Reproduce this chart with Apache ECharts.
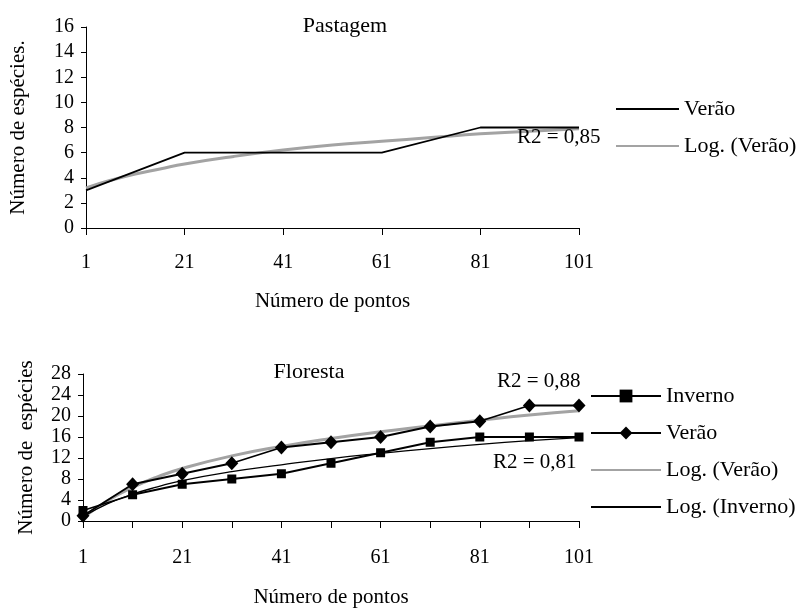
<!DOCTYPE html>
<html>
<head>
<meta charset="utf-8">
<script src="https://cdn.jsdelivr.net/npm/echarts@6/dist/echarts.min.js"></script>
<style>html,body{margin:0;padding:0;background:#fff}#c{width:802px;height:609px}</style>
</head>
<body>
<div id="c"></div>
<script>
// Pastagem
const pastX = [1, 21, 41, 61, 81, 101];
const pastVerao = [3, 6, 6, 6, 8, 8];
const pastLogX = [1, 6, 11, 16, 21, 31, 41, 51, 61, 71, 81, 91, 101];
const pastLogVerao = [3.2, 3.8, 4.3, 4.7, 5.1, 5.7, 6.2, 6.6, 6.9, 7.2, 7.5, 7.7, 7.9];
// Floresta
const florX = [1, 11, 21, 31, 41, 51, 61, 71, 81, 91, 101];
const florInverno = [2, 5, 7, 8, 9, 11, 13, 15, 16, 16, 16];
const florVerao = [1, 7, 9, 11, 14, 15, 16, 18, 19, 22, 22];
const florLogX = [1, 6, 11, 16, 21, 31, 41, 51, 61, 71, 81, 91, 101];
const florLogVerao = [0.6, 3.9, 6.4, 8.4, 10.0, 12.4, 14.2, 15.7, 17.0, 18.1, 19.2, 20.2, 21.0];
const florLogInverno = [0.8, 3.3, 5.1, 6.5, 7.7, 9.4, 10.7, 11.9, 12.9, 13.8, 14.6, 15.3, 15.9];
// ticks
const pastYTicks = {min: 0, max: 16, interval: 2};
const florYTicks = {min: 0, max: 28, interval: 4};

const F = 'Liberation Serif';
const zip = (xs, ys) => xs.map((x, i) => [x, ys[i]]);

const chart = echarts.init(document.getElementById('c'), null, {renderer: 'canvas'});

function xAxisCfg(gridIndex, interval, margin, nameGap) {
  return {
    type: 'value', gridIndex, min: 1, max: 101, interval,
    name: 'Número de pontos', nameLocation: 'middle', nameGap,
    nameTextStyle: {fontFamily: F, fontSize: 21, color: '#000'},
    axisLine: {lineStyle: {color: '#000', width: 1}},
    axisTick: {show: true, length: 7, inside: false, lineStyle: {color: '#000'}},
    axisLabel: {fontFamily: F, fontSize: 20, color: '#000', margin,
      formatter: v => ((v - 1) % 20 === 0 ? String(v) : '')},
    splitLine: {show: false}
  };
}
function yAxisCfg(gridIndex, t, name, nameGap) {
  return {
    type: 'value', gridIndex, min: t.min, max: t.max, interval: t.interval,
    name, nameLocation: 'middle', nameGap,
    nameTextStyle: {fontFamily: F, fontSize: 21, color: '#000'},
    axisLine: {show: true, lineStyle: {color: '#000', width: 1}},
    axisTick: {show: true, length: 5, lineStyle: {color: '#000'}},
    axisLabel: {fontFamily: F, fontSize: 20, color: '#000', margin: 12},
    splitLine: {show: false}
  };
}

const legendText = {fontFamily: F, fontSize: 22, color: '#000', lineHeight: 22};
const noSym = {itemStyle: {opacity: 0}};

chart.setOption({
  animation: false,
  backgroundColor: '#fff',
  title: [
    {text: 'Pastagem', left: 340, top: 21, textAlign: 'center', textVerticalAlign: 'middle',
      textStyle: {fontFamily: F, fontSize: 22, fontWeight: 'normal', color: '#000'}},
    {text: 'Floresta', left: 304, top: 367, textAlign: 'center', textVerticalAlign: 'middle',
      textStyle: {fontFamily: F, fontSize: 22, fontWeight: 'normal', color: '#000'}}
  ],
  grid: [
    {left: 86, right: 223, top: 27, height: 201},
    {left: 83, right: 223, top: 374, height: 151}
  ],
  xAxis: [xAxisCfg(0, 20, 25, 63), xAxisCfg(1, 10, 27, 66)],
  yAxis: [
    yAxisCfg(0, pastYTicks, 'Número de espécies.', 57),
    yAxisCfg(1, florYTicks, 'Número de  espécies', 46)
  ],
  legend: [
    {orient: 'vertical', left: 615, top: 98, padding: 0, itemWidth: 63, itemHeight: 14, itemGap: 15,
      textStyle: legendText, selectedMode: false,
      data: [Object.assign({name: 'Verão'}, noSym), Object.assign({name: 'Log. (Verão)'}, noSym)]},
    {orient: 'vertical', left: 590, top: 385, padding: 0, itemWidth: 70, itemHeight: 16, itemGap: 15,
      textStyle: legendText, selectedMode: false,
      data: [{name: 'Inverno'}, {name: 'Verão '},
        Object.assign({name: 'Log. (Verão) '}, noSym), Object.assign({name: 'Log. (Inverno)'}, noSym)]}
  ],
  series: [
    {name: 'Log. (Verão)', type: 'line', xAxisIndex: 0, yAxisIndex: 0, smooth: true, symbol: 'none',
      lineStyle: {color: '#a3a3a3', width: 3}, itemStyle: {color: '#a3a3a3'}, data: zip(pastLogX, pastLogVerao), z: 2},
    {name: 'Verão', type: 'line', xAxisIndex: 0, yAxisIndex: 0, symbol: 'none',
      lineStyle: {color: '#000', width: 1.8}, itemStyle: {color: '#000'}, data: zip(pastX, pastVerao), z: 3},

    {name: 'Log. (Verão) ', type: 'line', xAxisIndex: 1, yAxisIndex: 1, smooth: true, symbol: 'none',
      lineStyle: {color: '#a3a3a3', width: 3}, itemStyle: {color: '#a3a3a3'}, data: zip(florLogX, florLogVerao), z: 2},
    {name: 'Log. (Inverno)', type: 'line', xAxisIndex: 1, yAxisIndex: 1, smooth: true, symbol: 'none',
      lineStyle: {color: '#000', width: 1.3}, itemStyle: {color: '#000'}, data: zip(florLogX, florLogInverno), z: 2},
    {name: 'Inverno', type: 'line', xAxisIndex: 1, yAxisIndex: 1, symbol: 'rect', symbolSize: 9,
      lineStyle: {color: '#000', width: 1.8}, itemStyle: {color: '#000'}, data: zip(florX, florInverno), z: 3},
    {name: 'Verão ', type: 'line', xAxisIndex: 1, yAxisIndex: 1, symbol: 'diamond', symbolSize: [13, 14],
      lineStyle: {color: '#000', width: 1.8}, itemStyle: {color: '#000'}, data: zip(florX, florVerao), z: 3}
  ],
  graphic: [
    {type: 'text', left: 517, top: 127, style: {text: 'R2 = 0,85', fontFamily: F, fontSize: 21, fill: '#000'}, z: 10},
    {type: 'text', left: 497, top: 371, style: {text: 'R2 = 0,88', fontFamily: F, fontSize: 21, fill: '#000'}, z: 10},
    {type: 'text', left: 493, top: 452, style: {text: 'R2 = 0,81', fontFamily: F, fontSize: 21, fill: '#000'}, z: 10}
  ]
});
</script>
</body>
</html>
